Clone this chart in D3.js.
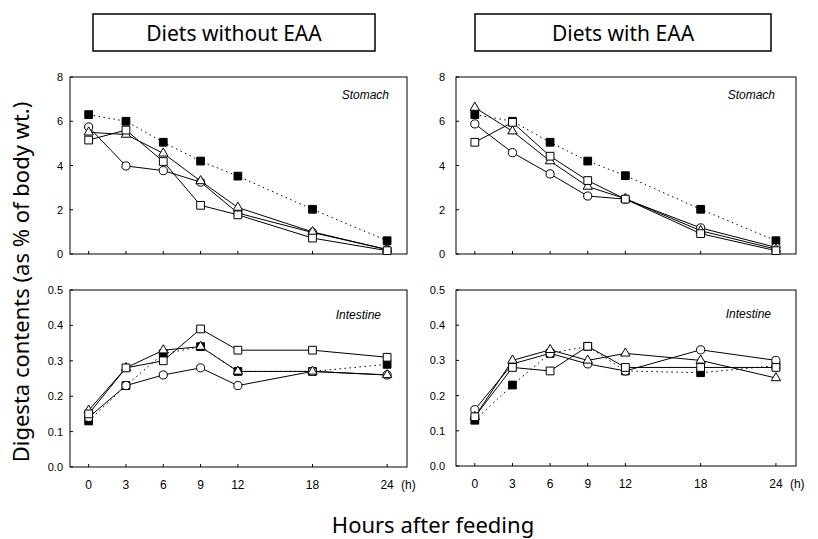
<!DOCTYPE html>
<html>
<head>
<meta charset="utf-8">
<script src="https://cdn.jsdelivr.net/npm/d3@7"></script>
<style>
  body { margin: 0; background: #fff; }
  svg { display: block; }
</style>
</head>
<body>
<div id="chart"></div>
<script>
// Hours after feeding
const hours = [0, 3, 6, 9, 12, 18, 24];

// Stomach, diets without EAA
const stomWoFilled   = [6.3, 6.0, 5.05, 4.2, 3.52, 2.02, 0.6];
const stomWoCircle   = [5.74, 3.98, 3.77, 3.25, 1.85, 0.97, 0.2];
const stomWoTriangle = [5.5, 5.4, 4.55, 3.3, 2.1, 1.0, 0.2];
const stomWoSquare   = [5.15, 5.6, 4.18, 2.2, 1.77, 0.72, 0.15];

// Stomach, diets with EAA
const stomWFilled   = [6.3, 6.0, 5.05, 4.2, 3.54, 2.02, 0.6];
const stomWCircle   = [5.88, 4.58, 3.62, 2.62, 2.48, 1.18, 0.3];
const stomWTriangle = [6.62, 5.55, 4.2, 3.05, 2.5, 1.05, 0.22];
const stomWSquare   = [5.05, 5.95, 4.42, 3.32, 2.48, 0.92, 0.15];

// Intestine, diets without EAA
const intWoFilled   = [0.13, 0.23, 0.32, 0.34, 0.27, 0.27, 0.29];
const intWoCircle   = [0.14, 0.23, 0.26, 0.28, 0.23, 0.27, 0.26];
const intWoTriangle = [0.16, 0.28, 0.33, 0.34, 0.27, 0.27, 0.26];
const intWoSquare   = [0.15, 0.28, 0.30, 0.39, 0.33, 0.33, 0.31];

// Intestine, diets with EAA
const intWFilled   = [0.13, 0.23, 0.32, 0.34, 0.27, 0.265, 0.285];
const intWCircle   = [0.16, 0.29, 0.32, 0.29, 0.27, 0.33, 0.30];
const intWTriangle = [0.14, 0.30, 0.33, 0.30, 0.32, 0.30, 0.25];
const intWSquare   = [0.14, 0.28, 0.27, 0.34, 0.28, 0.28, 0.28];

const stomachTicks = [0, 2, 4, 6, 8];
const intestineTicks = [0, 0.1, 0.2, 0.3, 0.4, 0.5];
const titles = ["Diets without EAA", "Diets with EAA"];

const width = 818, height = 539;
const svg = d3.select("#chart").append("svg")
    .attr("width", width)
    .attr("height", height);

const xLeft = d3.scaleLinear().domain([-1.5, 25.6]).range([70, 407]);
const xRight = d3.scaleLinear().domain([-1.5, 25.6]).range([456, 796]);

// series order: filled (drawn first, underneath), then open markers
const markerKinds = ["filled", "circle", "triangle", "square"];

const panels = [
    { x: xLeft, y: d3.scaleLinear().domain([0, 8]).range([254, 77]), ticks: stomachTicks, fmt: d3.format("d"),
      label: "Stomach", labelY: 99, labelX: 389, gap: 7, xLabels: false,
      series: [stomWoFilled, stomWoCircle, stomWoTriangle, stomWoSquare] },
    { x: xRight, y: d3.scaleLinear().domain([0, 8]).range([254, 77]), ticks: stomachTicks, fmt: d3.format("d"),
      label: "Stomach", labelY: 99, labelX: 775, gap: 11, xLabels: false,
      series: [stomWFilled, stomWCircle, stomWTriangle, stomWSquare] },
    { x: xLeft, y: d3.scaleLinear().domain([0, 0.5]).range([467, 290]), ticks: intestineTicks, fmt: d3.format(".1f"),
      label: "Intestine", labelY: 319, labelX: 381, gap: 7, xLabels: true,
      series: [intWoFilled, intWoCircle, intWoTriangle, intWoSquare] },
    { x: xRight, y: d3.scaleLinear().domain([0, 0.5]).range([466, 290]), ticks: intestineTicks, fmt: d3.format(".1f"),
      label: "Intestine", labelY: 318, labelX: 771, gap: 11, xLabels: true,
      series: [intWFilled, intWCircle, intWTriangle, intWSquare] }
];

const symbols = {
    circle: d3.symbol().type(d3.symbolCircle).size(52),
    triangle: d3.symbol().type(d3.symbolTriangle).size(38),
    square: d3.symbol().type(d3.symbolSquare).size(60),
    filled: d3.symbol().type(d3.symbolSquare).size(60)
};

panels.forEach(p => {
    const g = svg.append("g");
    const [x0, x1] = p.x.range();
    const [y0, y1] = p.y.range();

    // frame
    g.append("rect")
        .attr("x", x0).attr("y", y1)
        .attr("width", x1 - x0).attr("height", y0 - y1)
        .attr("fill", "none").attr("stroke", "#000").attr("stroke-width", 1);

    // y ticks (inward) and labels
    g.selectAll(".ytick").data(p.ticks).enter().append("line")
        .attr("x1", x0).attr("x2", x0 + 3)
        .attr("y1", d => p.y(d)).attr("y2", d => p.y(d))
        .attr("stroke", "#000");
    g.selectAll(".ylab").data(p.ticks).enter().append("text")
        .attr("x", x0 - p.gap).attr("y", d => p.y(d) + 4)
        .attr("text-anchor", "end")
        .style("font", "11px 'Liberation Sans', Arial, sans-serif")
        .text(d => p.fmt(d));

    // x ticks
    g.selectAll(".xtick").data(hours).enter().append("line")
        .attr("x1", d => p.x(d)).attr("x2", d => p.x(d))
        .attr("y1", y0).attr("y2", y0 - 3)
        .attr("stroke", "#000");
    if (p.xLabels) {
        g.selectAll(".xlab").data(hours).enter().append("text")
            .attr("x", d => p.x(d)).attr("y", y0 + 22)
            .attr("text-anchor", "middle")
            .style("font", "12px 'Liberation Sans', Arial, sans-serif")
            .text(d => d);
        g.append("text")
            .attr("x", p.x(24) + 14).attr("y", y0 + 22)
            .style("font", "12px 'Liberation Sans', Arial, sans-serif")
            .text("(h)");
    }

    // organ label
    g.append("text")
        .attr("x", p.labelX).attr("y", p.labelY)
        .attr("text-anchor", "end")
        .style("font", "italic 12px 'Liberation Sans', Arial, sans-serif")
        .text(p.label);

    const line = d3.line().x((d, i) => p.x(hours[i])).y(d => p.y(d));

    // lines
    p.series.forEach((vals, k) => {
        g.append("path")
            .attr("d", line(vals))
            .attr("fill", "none")
            .attr("stroke", "#000")
            .attr("stroke-width", 1)
            .attr("stroke-dasharray", markerKinds[k] === "filled" ? "1.5,3.5" : null);
    });

    // markers
    p.series.forEach((vals, k) => {
        const kind = markerKinds[k];
        g.selectAll(".m" + k).data(vals).enter().append("path")
            .attr("transform", (d, i) => `translate(${p.x(hours[i])},${p.y(d)})`)
            .attr("d", symbols[kind]())
            .attr("fill", kind === "filled" ? "#000" : "#fff")
            .attr("stroke", "#000")
            .attr("stroke-width", 1);
    });
});

// title boxes
const boxes = [{ x: 93, w: 282, t: titles[0] }, { x: 475, w: 296, t: titles[1] }];
boxes.forEach(b => {
    svg.append("rect")
        .attr("x", b.x).attr("y", 14).attr("width", b.w).attr("height", 37)
        .attr("fill", "none").attr("stroke", "#000").attr("stroke-width", 1.5);
    svg.append("text")
        .attr("x", b.x + b.w / 2).attr("y", 41)
        .attr("text-anchor", "middle")
        .style("font", "21px 'Noto Sans', sans-serif")
        .text(b.t);
});

// axis titles
svg.append("text")
    .attr("transform", "translate(29,282) rotate(-90)")
    .attr("text-anchor", "middle")
    .style("font", "22px 'Noto Sans', sans-serif")
    .text("Digesta contents (as % of body wt.)");

svg.append("text")
    .attr("x", 433).attr("y", 533)
    .attr("text-anchor", "middle")
    .style("font", "22px 'Noto Sans', sans-serif")
    .text("Hours after feeding");
</script>
</body>
</html>
